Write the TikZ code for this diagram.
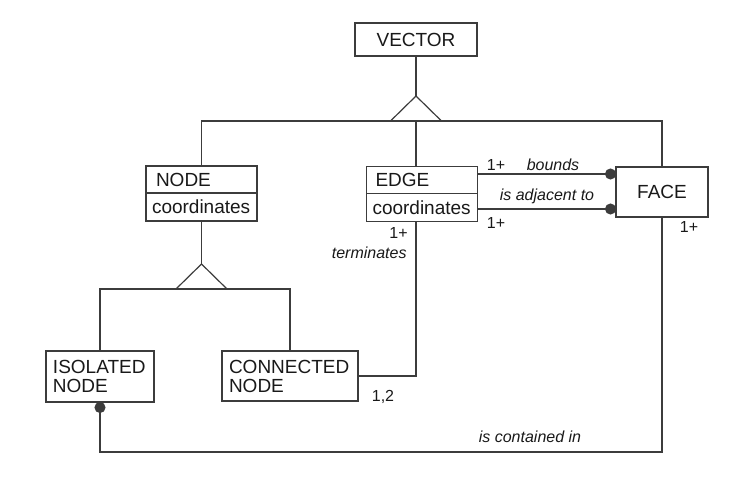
\documentclass[tikz,border=0pt]{standalone}
\usepackage{fontspec}
\setmainfont{Liberation Sans}
\usetikzlibrary{arrows.meta, positioning, calc}
\definecolor{lineclr}{RGB}{60,60,60}
\definecolor{textclr}{RGB}{25,25,25}

\tikzset{
  uml/.style={draw=lineclr, line width=0.6pt, outer sep=0pt, text=textclr, font=\fontsize{9.5}{9.5}\selectfont},
  titlebox/.style={uml, text width=49.5pt, inner xsep=3pt, align=left, minimum height=13.5pt, inner ysep=0pt},
  attrbox/.style={titlebox, minimum height=14pt},
  entity/.style={uml, align=left, inner xsep=3.5pt},
  lbl/.style={font=\fontsize{8}{8}\selectfont\itshape, text=textclr, inner sep=0pt},
  mult/.style={font=\fontsize{8}{8}\selectfont, text=textclr, inner sep=0pt},
  link/.style={draw=lineclr, line width=0.6pt},
  dot/.style={link, -{Circle[length=5.5pt]}},
}

\begin{document}
\begin{tikzpicture}[x=0.5pt, y=-0.5pt]
    \useasboundingbox (0,0) rectangle (740,477);

    % Classes
    \node[uml, minimum width=61pt, minimum height=16.5pt] (vector) at (416,39.5) {VECTOR};
    \node[titlebox] (nodeT) at (201.5,179.5) {\hspace*{2pt}NODE};
    \node[attrbox, below=0pt of nodeT] (nodeA) {coordinates};
    \node[titlebox] (edgeT) at (422,180) {\hspace*{1.5pt}EDGE};
    \node[attrbox, below=0pt of edgeT] (edgeA) {coordinates};
    \node[uml, minimum width=46pt, minimum height=25pt] (face) at (662,192) {FACE};
    \node[entity, text width=47pt, minimum height=25.5pt] (iso) at (100,376.5) {ISOLATED\\NODE};
    \node[entity, text width=61pt, minimum height=25pt] (conn) at (290,376) {CONNECTED\\NODE};

    % Generalisation triangles
    \coordinate (vtip) at (416,96);
    \coordinate (vbase) at (416,121);
    \draw[link] (vtip) -- ++(-25.5,25) -- ++(51,0) -- cycle;
    \coordinate (ntip) at (201.5,264);
    \coordinate (nbase) at (201.5,289);
    \draw[link] (ntip) -- ++(-25.5,25) -- ++(51,0) -- cycle;

    % Inheritance lines
    \draw[link] (vector) -- (vtip);
    \draw[link] (nodeT.north) |- (vbase) -| (face.north);
    \draw[link] (vbase) -- (vbase |- edgeT.north);
    \draw[link] (nodeA) -- (ntip);
    \draw[link] (iso.north) |- (nbase) -| (conn.north);

    % Associations
    \draw[dot] ([yshift=3pt]edgeT.east) -- ([yshift=3pt]edgeT.east -| face.west);
    \draw[dot] ([yshift=-0.75pt]edgeA.east) -- ([yshift=-0.75pt]edgeA.east -| face.west);
    \draw[link] (vbase |- edgeA.south) |- (conn.east);
    \coordinate (bot) at (380,452);
    \draw[link, {Circle[length=5.5pt]}-] (iso.south) -- (iso.south |- bot) -| (face.south);

    % Labels
    \node[mult] (mbounds) at (496,165) {1+};
    \node[lbl] (lbounds) at (553,165) {bounds};
    \node[lbl] (ladjacent) at (547,196) {is adjacent to};
    \node[mult] (madjacent) at (496,223) {1+};
    \node[mult, anchor=east] (mterm) at (408,233) {1+};
    \node[lbl, anchor=east] (lterm) at (407,253) {terminates};
    \node[mult] (mconn) at (383,397) {1,2};
    \node[mult] (mface) at (689,227) {1+};
    \node[lbl] (lcontained) at (530,437) {is contained in};
\end{tikzpicture}
\end{document}
